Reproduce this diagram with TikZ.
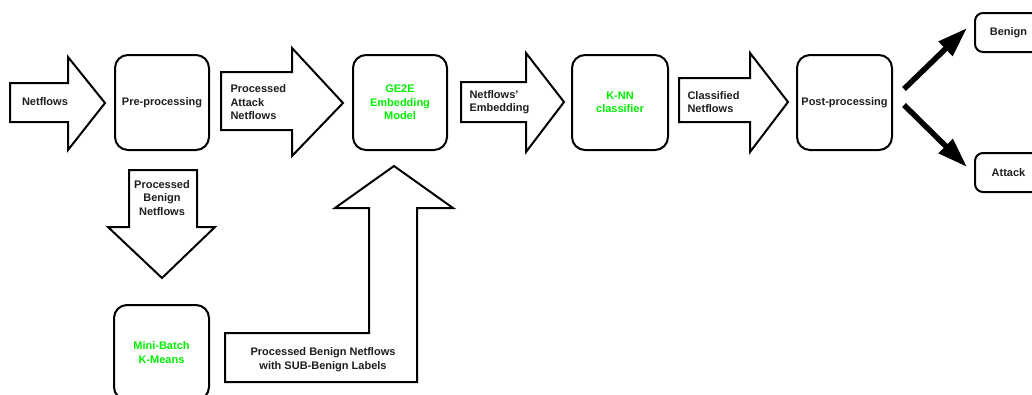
\documentclass[tikz,border=0pt]{standalone}
\usepackage{fontspec}
\setmainfont{Liberation Sans}
\usetikzlibrary{arrows.meta}
\definecolor{ink}{HTML}{1E1E1E}
\definecolor{hl}{HTML}{00F000}
\begin{document}
\begin{tikzpicture}[x=1pt,y=-1pt,
  every node/.style={font=\fontsize{11}{13.5}\selectfont\bfseries, text=ink},
  box/.style={draw=black, line width=2pt, rounded corners=13pt, inner sep=0pt},
  blockarrow/.style={draw=black, line width=2pt, fill=white, line join=miter},
  lbl/.style={anchor=west, align=left},
  ctr/.style={align=center},
  green/.style={text=hl},
  fatarrow/.style={line width=5.5pt, -{Triangle[length=30pt,width=19pt]}}]
\clip (0,0) rectangle (1032,394);

% processing blocks
\node[box, minimum width=94pt, minimum height=95pt] (pre)  at (162,102.5) {Pre-processing};
\node[box, minimum width=94pt, minimum height=95pt, green, ctr] (ge2e) at (400,102.5) {GE2E\\Embedding\\Model};
\node[box, minimum width=96pt, minimum height=95pt, green, ctr] (knn)  at (620,102.5) {K-NN\\classifier};
\node[box, minimum width=95pt, minimum height=95pt] (post) at (844.5,102.5) {Post-processing};
\node[box, minimum width=95pt, minimum height=95pt, green, ctr] (mini) at (161.5,352.5) {Mini-Batch\\K-Means};
\node[box, rounded corners=8pt, minimum width=67pt, minimum height=39pt] (benign) at (1008.5,32.5) {Benign};
\node[box, rounded corners=8pt, minimum width=67pt, minimum height=39pt] (attack) at (1008.5,172.5) {Attack};

% block arrows between the stages
\draw[blockarrow] (10,83) -- (68,83) -- (68,57) -- (105,103) -- (68,150) -- (68,122) -- (10,122) -- cycle;
\draw[blockarrow] (221,72) -- (292,72) -- (292,48) -- (343,103) -- (292,156) -- (292,130) -- (221,130) -- cycle;
\draw[blockarrow] (461,82) -- (526,82) -- (526,53) -- (564,102) -- (526,152) -- (526,122) -- (461,122) -- cycle;
\draw[blockarrow] (679,78) -- (750,78) -- (750,53) -- (788,102) -- (750,152) -- (750,122) -- (679,122) -- cycle;
\draw[blockarrow] (129,170) -- (197,170) -- (197,227) -- (215,227) -- (162,278) -- (108,227) -- (129,227) -- cycle;
\draw[blockarrow] (225,333) -- (369,333) -- (369,208) -- (335,208) -- (394,166) -- (453,208) -- (417,208) -- (417,382) -- (225,382) -- cycle;

% labels carried by the block arrows
\node[lbl] (tflows)  at (18.5,102) {Netflows};
\node[lbl] (tattack) at (227,102.5) {Processed\\Attack\\Netflows};
\node[lbl] (temb)    at (466,102) {Netflows'\\Embedding};
\node[lbl] (tclass)  at (684,102) {Classified\\Netflows};
\node[ctr] (tbenign) at (162,198) {Processed\\Benign\\Netflows};
\node[ctr] (tsub)    at (323,359.5) {Processed Benign Netflows\\with SUB-Benign Labels};

% outcome arrows
\coordinate (ob) at (904,89);
\coordinate (oa) at (904,105);
\coordinate (tb) at (967,28);
\coordinate (ta) at (967,167);
\draw[fatarrow] (ob) -- (tb);
\draw[fatarrow] (oa) -- (ta);
\end{tikzpicture}
\end{document}
